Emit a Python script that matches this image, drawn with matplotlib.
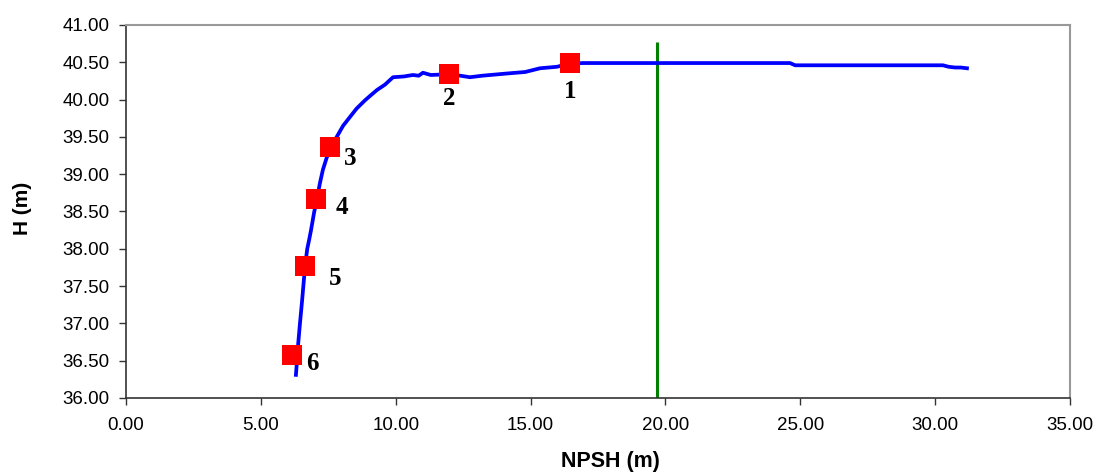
import matplotlib
matplotlib.use('Agg')
import matplotlib.pyplot as plt
import numpy as np

# measured curve H vs NPSH
npsh = [6.30, 6.33, 6.38, 6.45, 6.53, 6.58, 6.64, 6.72, 6.79, 6.86, 6.97, 7.08,
        7.19, 7.30, 7.44, 7.64, 7.86, 8.05, 8.31, 8.55, 8.86, 9.05, 9.31, 9.60,
        9.90, 10.30, 10.64, 10.85, 11.01, 11.30, 11.98, 12.40, 12.75, 13.20,
        14.13, 14.80, 15.35, 15.98, 16.43, 16.94, 20.00, 24.62, 24.81, 29.20,
        30.29, 30.50, 30.74, 30.95, 31.18]
head = [36.31, 36.45, 36.71, 37.00, 37.31, 37.52, 37.77, 38.00, 38.12, 38.25,
        38.48, 38.67, 38.88, 39.06, 39.22, 39.39, 39.53, 39.65, 39.77, 39.88,
        39.99, 40.05, 40.13, 40.20, 40.30, 40.31, 40.33, 40.32, 40.36, 40.33,
        40.34, 40.32, 40.30, 40.32, 40.35, 40.37, 40.42, 40.44, 40.48, 40.49,
        40.49, 40.49, 40.46, 40.46, 40.46, 40.44, 40.43, 40.43, 40.42]

# operating points
pt_x = [16.46, 11.98, 7.56, 7.06, 6.64, 6.15]
pt_y = [40.49, 40.34, 39.37, 38.67, 37.77, 36.58]
pt_labels = ['1', '2', '3', '4', '5', '6']
label_offsets = [(0, -28), (0, -24), (20, -12), (26, -9), (30, -13), (21, -9)]

npsh_req = 19.67
npsh_line_top = 40.77

fig = plt.figure(figsize=(11.01, 4.75), dpi=100)
ax = fig.add_axes([126 / 1101, 1 - 398 / 475, (1070 - 126) / 1101, (398 - 25) / 475])

ax.plot(npsh, head, color='#0000ff', lw=2.7, zorder=3)
ax.vlines(npsh_req, 36.0, npsh_line_top, color='#008000', lw=2.2, zorder=2)
ax.scatter(pt_x, pt_y, marker='s', s=190, color='#ff0000', zorder=4, linewidths=0)

for x, y, lab, off in zip(pt_x, pt_y, pt_labels, label_offsets):
    ax.annotate(lab, (x, y), xytext=off, textcoords='offset pixels',
                ha='center', va='center', fontsize=18, fontweight='bold',
                family='Liberation Serif', color='black')

ax.set_xlim(0, 35)
ax.set_ylim(36, 41)
ax.set_xticks(np.arange(0, 35.1, 5))
ax.set_yticks(np.arange(36, 41.01, 0.5))
ax.set_xticklabels([f'{v:.2f}' for v in np.arange(0, 35.1, 5)])
ax.set_yticklabels([f'{v:.2f}' for v in np.arange(36, 41.01, 0.5)])
ax.tick_params(direction='out', length=5, width=1, labelsize=13.5, color='#333333')
ax.tick_params(axis='y', pad=7)
ax.tick_params(axis='x', pad=9)
for lab in ax.get_xticklabels() + ax.get_yticklabels():
    lab.set_family('Liberation Sans')

for side in ['top', 'right']:
    ax.spines[side].set_color('#999999')
    ax.spines[side].set_linewidth(1.5)
for side in ['left', 'bottom']:
    ax.spines[side].set_color('#333333')
    ax.spines[side].set_linewidth(1.2)

ax.set_xlabel('NPSH (m)', fontsize=15.5, fontweight='bold', family='Liberation Sans')
ax.set_ylabel('H (m)', fontsize=15, fontweight='bold', family='Liberation Sans')
ax.xaxis.set_label_coords((610 - 126) / 944, -(462 - 398) / 373)
ax.yaxis.set_label_coords(-(126 - 23) / 944, (398 - 208) / 373)
ax.xaxis.label.set_va('center')
ax.yaxis.label.set_va('center')

fig.savefig('out.png', dpi=100)
